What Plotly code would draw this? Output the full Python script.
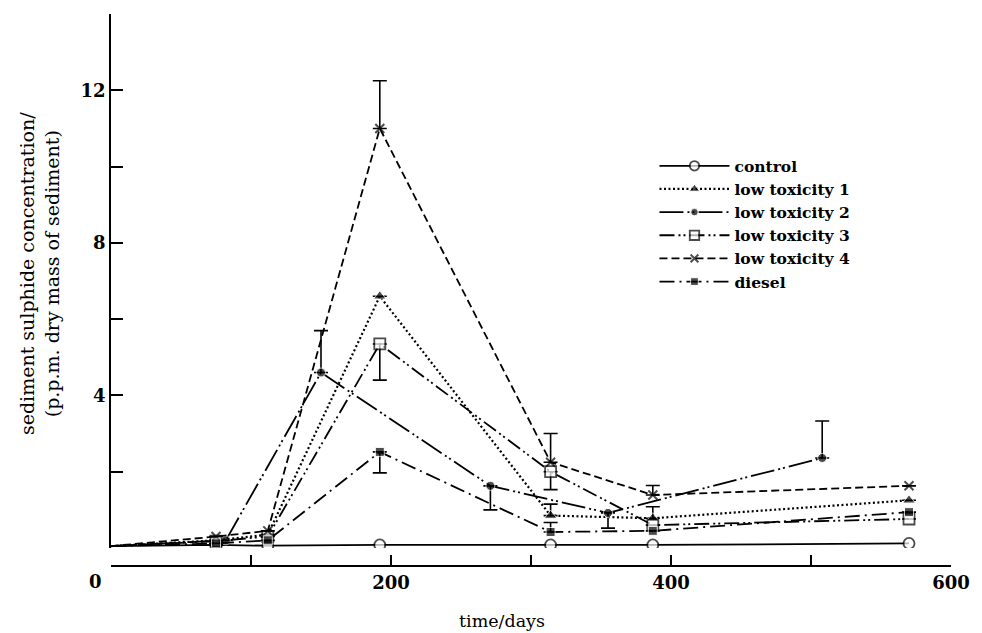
import plotly.graph_objects as go

# ---- data ----
time_main = [0, 75, 112, 192, 314, 387, 570]
time_lt2 = [0, 82, 150, 271, 355, 508]

control = [0.05, 0.08, 0.06, 0.08, 0.08, 0.08, 0.12]
low_tox_1 = [0.05, 0.2, 0.35, 6.6, 0.85, 0.78, 1.25]
low_tox_2 = [0.05, 0.2, 4.6, 1.63, 0.92, 2.36]
low_tox_3 = [0.05, 0.18, 0.3, 5.35, 2.0, 0.6, 0.76]
low_tox_4 = [0.05, 0.3, 0.45, 11.0, 2.25, 1.39, 1.63]
diesel = [0.05, 0.12, 0.2, 2.52, 0.42, 0.45, 0.94]

# one-sided error bars (plus, minus)
lt1_err_up = [0, 0, 0, 0, 0.3, 0.3, 0]
lt1_err_dn = [0, 0, 0, 0, 0, 0, 0]
lt2_err_up = [0, 0, 1.1, 0, 0, 0.97]
lt2_err_dn = [0, 0, 0, 0.63, 0.4, 0]
lt3_err_up = [0, 0, 0, 0, 0, 0, 0]
lt3_err_dn = [0, 0, 0, 0.95, 0.47, 0, 0]
lt4_err_up = [0, 0, 0, 1.25, 0.75, 0.25, 0]
lt4_err_dn = [0, 0, 0, 0, 0, 0, 0]
diesel_err_up = [0, 0, 0, 0, 0.25, 0, 0]
diesel_err_dn = [0, 0, 0, 0.55, 0, 0, 0]

x_tickvals = [0, 100, 200, 300, 400, 500, 600]
x_ticktext = ["", "", "200", "", "400", "", "600"]
y_tickvals = [2, 4, 6, 8, 10, 12, 14]
y_ticktext = ["", "4", "", "8", "", "12", ""]

SERIF = "DejaVu Serif"
BLACK = "black"
LW = 1.8


def sizes(n, s):
    return [0] + [s] * (n - 1)


def err(up, dn):
    return dict(type="data", symmetric=False, array=up, arrayminus=dn,
                width=7, thickness=1.6, color=BLACK)


fig = go.Figure()

fig.add_trace(go.Scatter(
    x=time_main, y=control, name="control", mode="lines+markers",
    line=dict(color=BLACK, width=LW, dash="solid"),
    marker=dict(symbol="circle", size=sizes(len(time_main), 11), color="white",
                line=dict(color=BLACK, width=1.8)),
))
fig.add_trace(go.Scatter(
    x=time_main, y=low_tox_1, name="low toxicity 1", mode="lines+markers",
    line=dict(color=BLACK, width=2.2, dash="2px,2.5px"),
    marker=dict(symbol="triangle-up", size=sizes(len(time_main), 11), color=BLACK),
    error_y=err(lt1_err_up, lt1_err_dn),
))
fig.add_trace(go.Scatter(
    x=time_lt2, y=low_tox_2, name="low toxicity 2", mode="lines+markers",
    line=dict(color=BLACK, width=LW, dash="24px,4px,2px,3px,2px,4px"),
    marker=dict(symbol="circle", size=sizes(len(time_lt2), 9), color=BLACK),
    error_y=err(lt2_err_up, lt2_err_dn),
))
fig.add_trace(go.Scatter(
    x=time_main, y=low_tox_3, name="low toxicity 3", mode="lines+markers",
    line=dict(color=BLACK, width=LW, dash="15px,4px,2px,3px,2px,4px"),
    marker=dict(symbol="square", size=sizes(len(time_main), 11), color="white",
                line=dict(color=BLACK, width=1.8)),
    error_y=err(lt3_err_up, lt3_err_dn),
))
fig.add_trace(go.Scatter(
    x=time_main, y=low_tox_4, name="low toxicity 4", mode="lines+markers",
    line=dict(color=BLACK, width=LW, dash="8px,4px"),
    marker=dict(symbol="x-thin-open", size=sizes(len(time_main), 9),
                line=dict(color=BLACK, width=2)),
    error_y=err(lt4_err_up, lt4_err_dn),
))
fig.add_trace(go.Scatter(
    x=time_main, y=diesel, name="diesel", mode="lines+markers",
    line=dict(color=BLACK, width=LW, dash="15px,5px,2px,5px"),
    marker=dict(symbol="square", size=sizes(len(time_main), 9), color=BLACK),
    error_y=err(diesel_err_up, diesel_err_dn),
))

y_dom_bottom = 18 / 552

fig.update_layout(
    width=982, height=633,
    margin=dict(l=111, r=19, t=14, b=67),
    paper_bgcolor="white", plot_bgcolor="white",
    font=dict(family=SERIF, size=17, color=BLACK),
    showlegend=True,
    legend=dict(
        x=0.647, y=0.755, xanchor="left", yanchor="top",
        font=dict(family=SERIF, size=15.5, color=BLACK, weight="bold"),
        bgcolor="rgba(0,0,0,0)", itemwidth=70, tracegroupgap=0,
    ),
    xaxis=dict(
        range=[0, 600], anchor="free", position=0,
        showline=True, linecolor=BLACK, linewidth=LW,
        ticks="inside", ticklen=10, tickwidth=LW, tickcolor=BLACK,
        tickvals=x_tickvals, ticktext=x_ticktext,
        tickfont=dict(family=SERIF, size=18, color=BLACK, weight="bold"),
        showgrid=False, zeroline=False,
    ),
    yaxis=dict(
        range=[0, 14], domain=[y_dom_bottom, 1],
        showline=True, linecolor=BLACK, linewidth=LW,
        ticks="inside", ticklen=12, tickwidth=LW, tickcolor=BLACK,
        tickvals=y_tickvals, ticktext=y_ticktext,
        tickfont=dict(family=SERIF, size=18, color=BLACK, weight="bold"),
        showgrid=False, zeroline=False,
    ),
    annotations=[
        dict(text="0", x=-0.018, y=-0.005, xref="paper", yref="paper",
             xanchor="center", yanchor="top", showarrow=False,
             font=dict(family=SERIF, size=18, color=BLACK, weight="bold")),
        dict(text="time/days", x=0.466, y=-0.1, xref="paper", yref="paper",
             xanchor="center", yanchor="middle", showarrow=False,
             font=dict(family=SERIF, size=17.5, color=BLACK)),
        dict(text="sediment sulphide concentration/<br>(p.p.m. dry mass of sediment)",
             x=-0.085, y=0.53, xref="paper", yref="paper",
             xanchor="center", yanchor="middle", textangle=-90, showarrow=False,
             font=dict(family=SERIF, size=19, color=BLACK)),
    ],
)

fig.write_html("out.html")
